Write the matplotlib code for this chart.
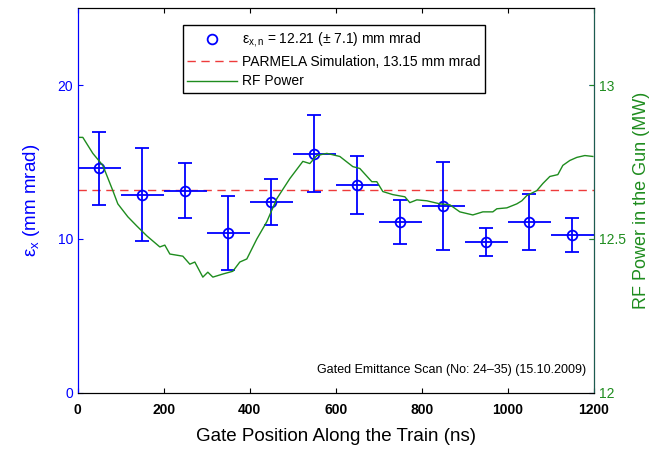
import numpy as np
import matplotlib
matplotlib.use("Agg")
import matplotlib.pyplot as plt

plt.rcParams['font.family'] = ['Liberation Sans', 'DejaVu Sans']
plt.rcParams['mathtext.fontset'] = 'custom'
plt.rcParams['mathtext.rm'] = 'Liberation Sans'
plt.rcParams['mathtext.it'] = 'Liberation Sans'

# gated emittance measurements
gate_pos = [50, 150, 250, 350, 450, 550, 650, 750, 850, 950, 1050, 1150]
emit = [14.58, 12.88, 13.14, 10.39, 12.42, 15.55, 13.5, 11.09, 12.14, 9.8, 11.1, 10.28]
emit_err = [2.35, 3.0, 1.77, 2.4, 1.5, 2.5, 1.9, 1.45, 2.85, 0.9, 1.85, 1.1]
gate_width = 50

parmela = 13.15

# RF power trace (MW) along the train
rf_t = [0, 11.6, 34.9, 58.1, 81.4, 93, 116.3, 137.2, 160.5, 190.7, 202.3, 214, 244.2,
        260.5, 272.1, 290.7, 302.3, 314, 337.2, 360.5, 376.7, 393, 416.3, 439.5, 462.8,
        493, 523.3, 539.5, 555.8, 579.1, 609.3, 639.5, 655.8, 683.7, 695.3, 709.3, 732.6,
        760.5, 772.1, 788.4, 811.6, 841.9, 865.1, 888.4, 918.6, 941.9, 965.1, 974.4, 997.7,
        1020.9, 1032.6, 1044.2, 1067.4, 1081.4, 1097.7, 1116.3, 1127.9, 1144.2, 1160.5,
        1179.1, 1197.7]
rf_p = [12.830, 12.830, 12.778, 12.739, 12.657, 12.614, 12.572, 12.542, 12.510, 12.474,
        12.480, 12.451, 12.444, 12.418, 12.425, 12.376, 12.392, 12.376, 12.386, 12.395,
        12.425, 12.435, 12.500, 12.556, 12.631, 12.696, 12.752, 12.745, 12.771, 12.778,
        12.768, 12.735, 12.729, 12.686, 12.686, 12.654, 12.644, 12.637, 12.618, 12.627,
        12.624, 12.614, 12.611, 12.588, 12.578, 12.588, 12.588, 12.598, 12.601, 12.614,
        12.624, 12.641, 12.657, 12.680, 12.703, 12.709, 12.739, 12.755, 12.765, 12.771,
        12.768]

blue = '#0000ff'
green = '#1e8c1e'

fig = plt.figure(figsize=(6.54, 4.5), dpi=100)
ax = fig.add_axes([0.119, 0.127, 0.789, 0.855])
ax2 = ax.twinx()

# red dashed simulation line
l2, = ax.plot([0, 1200], [parmela, parmela], '--', color='#ee3b3b', lw=1.0,
              dashes=(6, 4), label='PARMELA Simulation, 13.15 mm mrad')

# error bars
ax.errorbar(gate_pos, emit, xerr=gate_width, fmt='none', ecolor=blue, elinewidth=1.3,
            capsize=0)
ax.errorbar(gate_pos, emit, yerr=emit_err, fmt='none', ecolor=blue, elinewidth=1.3,
            capsize=5, capthick=1.3)
l1, = ax.plot(gate_pos, emit, 'o', mfc='none', mec=blue, ms=7, mew=1.3,
              label=r'$\varepsilon_{x,n}$ = 12.21 ($\pm$ 7.1) mm mrad')

l3, = ax2.plot(rf_t, rf_p, '-', color=green, lw=1.0, label='RF Power')

ax.set_xlim(0, 1200)
ax.set_ylim(0, 25)
ax2.set_ylim(12, 13.25)
ax.set_yticks([0, 10, 20])
ax2.set_yticks([12, 12.5, 13])
ax2.set_yticklabels(['12', '12.5', '13'])
ax.set_xticks([0, 200, 400, 600, 800, 1000, 1200])

ax.tick_params(axis='x', direction='in', colors='black', labelsize=10, top=True, pad=7)
for t in ax.get_xticklabels():
    t.set_fontweight('bold')
ax.tick_params(axis='y', direction='in', colors=blue, labelsize=10, right=True)
ax2.tick_params(axis='y', direction='in', colors=green, labelsize=10)

ax.spines['left'].set_color(blue)
ax2.spines['left'].set_color(blue)
ax2.spines['right'].set_color('#1c5c50')

ax.set_xlabel('Gate Position Along the Train (ns)', fontsize=13.5, labelpad=8)
ax.set_ylabel(r'$\varepsilon_x$ (mm mrad)', fontsize=13.5, color=blue, labelpad=11)
ax2.set_ylabel('RF Power in the Gun (MW)', fontsize=13, color=green, labelpad=5)

ax2.text(0.985, 0.06, 'Gated Emittance Scan (No: 24\u201335) (15.10.2009)',
         transform=ax2.transAxes, ha='right', va='center', fontsize=9)

leg = ax2.legend([l1, l2, l3], [l1.get_label(), l2.get_label(), l3.get_label()],
                 loc='upper center', bbox_to_anchor=(0.496, 0.973), fontsize=10,
                 frameon=True, fancybox=False, edgecolor='black', framealpha=1,
                 handlelength=3.6, borderpad=0.35, labelspacing=0.4, handletextpad=0.3)
leg.get_frame().set_linewidth(1.0)

fig.savefig('out.png', dpi=100)
